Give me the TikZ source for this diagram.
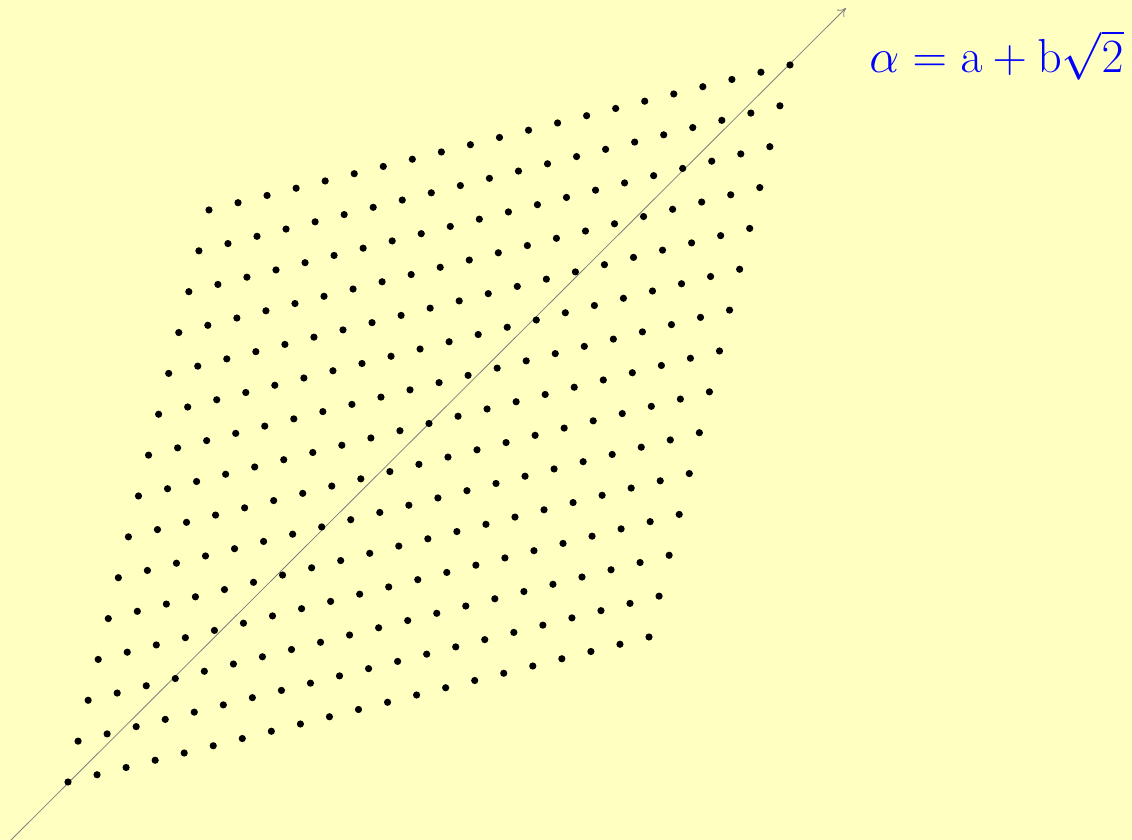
\documentclass[tikz,border=0pt]{standalone}
\usepackage{graphicx}
\usetikzlibrary{arrows.meta}
\definecolor{bgyellow}{RGB}{255,255,194}
\tikzset{
  dot/.style={circle,fill=black,inner sep=0pt,minimum size=3.6pt},
  axisline/.style={draw=gray,line width=0.4pt,-{To[length=4pt,width=5pt]}},
  lbl/.style={text=blue,anchor=base east,inner sep=0pt,font=\fontsize{20.74}{25}\selectfont}
}
\begin{document}
\begin{tikzpicture}[x=0.5pt,y=-0.5pt]
\fill[bgyellow] (0,0) rectangle (1132,840);
\useasboundingbox (0,0) rectangle (1132,840);
\coordinate (start) at (11,840);
\coordinate (tip) at (846,8);
\draw[axisline] (start) -- (tip);
\foreach \i in {0,...,20}{
  \foreach \j in {0,...,14}{
    \node[dot] (p-\i-\j) at ({68+29.05*\i+10.07*\j},{782-7.25*\i-40.86*\j}) {};
  }
}
\node[lbl] (alpha) at (1124,73) {\scalebox{1.15}{$\alpha = \mathrm{a} + \mathrm{b}\sqrt{2}$}};
\end{tikzpicture}
\end{document}
